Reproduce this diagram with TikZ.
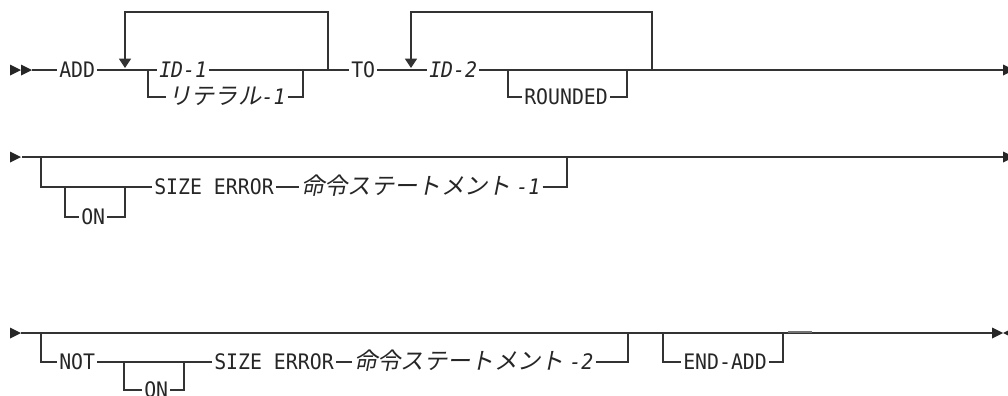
\documentclass[tikz,border=0pt]{standalone}
\usepackage{fontspec}
\setmonofont[FakeStretch=0.93]{DejaVu Sans Mono}
\newfontfamily\jafont[FakeSlant=0.2]{Noto Sans CJK JP}
\usetikzlibrary{arrows.meta}

\newcommand\idx[1]{{\ttfamily\itshape\fontsize{16}{19}\selectfont#1}}
\newcommand\railtri[2]{\fill[black!85] (#1,#2-5.5) -- ++(11,5.5) -- ++(-11,5.5) -- cycle;}

\begin{document}
\begin{tikzpicture}[
  x=0.75pt, y=-0.75pt,
  ln/.style={draw=black!80, line width=1.1pt},
  loop/.style={ln, -{Triangle[width=9pt,length=7pt]}},
  kw/.style={anchor=west, inner xsep=1.5pt, inner ysep=0pt, text height=11pt, text depth=0pt,
             text=black!85, font=\ttfamily\fontsize{16}{19}\selectfont},
  var/.style={kw, font=\ttfamily\itshape\fontsize{16}{19}\selectfont},
  ja/.style={kw, font=\jafont\fontsize{17.5}{20}\selectfont}
]
\useasboundingbox (0,0) rectangle (1008,396);

% first line: ADD ... TO ...
\railtri{10}{70}
\railtri{21}{70}
\coordinate (s1) at (32,70);
\node[kw] (add) at (57,70) {ADD};
\node[var] (idone) at (157,70) {ID-1};
\node[kw] (to) at (349,70) {TO};
\node[var] (idtwo) at (427,70) {ID-2};
\coordinate (e1) at (1003,70);
\draw[ln] (s1) -- (add) -- (idone) -- (to) -- (idtwo) -- (e1);
\railtri{1003}{70}

\coordinate (c1l) at (148,70);
\coordinate (c1r) at (303,70);
\node[ja] (lit) at (166,97) {リテラル\idx{-1}};
\draw[ln] (c1l) |- (lit) -| (c1r);
\coordinate (r1a) at (328,70);
\coordinate (r1b) at (125,68);
\draw[loop] (r1a) -- ++(0,-58) -| (r1b);

\coordinate (c2l) at (508,70);
\coordinate (c2r) at (627,70);
\node[kw] (rounded) at (522,97) {ROUNDED};
\draw[ln] (c2l) |- (rounded) -| (c2r);
\coordinate (r2a) at (652,70);
\coordinate (r2b) at (411,68);
\draw[loop] (r2a) -- ++(0,-58) -| (r2b);

% second line: ON SIZE ERROR
\railtri{10}{157}
\coordinate (s2) at (22,157);
\coordinate (e2) at (1003,157);
\draw[ln] (s2) -- (e2);
\railtri{1003}{157}

\coordinate (c3l) at (41,157);
\coordinate (c3r) at (567,157);
\node[kw] (sizeA) at (152,187) {SIZE ERROR};
\node[ja] (stmtA) at (299,187) {命令ステートメント \idx{-1}};
\draw[ln] (c3l) |- (sizeA) -- (stmtA) -| (c3r);
\coordinate (c4l) at (65,187);
\coordinate (c4r) at (125,187);
\node[kw] (onA) at (79,217) {ON};
\draw[ln] (c4l) |- (onA) -| (c4r);

% third line: NOT ON SIZE ERROR, END-ADD
\railtri{10}{333}
\coordinate (s3) at (21,333);
\coordinate (e3) at (992,333);
\draw[ln] (s3) -- (e3);
\railtri{992}{333}
\fill[black!85] (1014,327.5) -- ++(-11,5.5) -- ++(11,5.5) -- cycle;

\coordinate (c5l) at (41,333);
\coordinate (c5r) at (628,333);
\node[kw] (not) at (57,362) {NOT};
\node[kw] (sizeB) at (212,362) {SIZE ERROR};
\node[ja] (stmtB) at (352,362) {命令ステートメント \idx{-2}};
\draw[ln] (c5l) |- (not) -- (sizeB) -- (stmtB) -| (c5r);
\coordinate (c6l) at (124,362);
\coordinate (c6r) at (184,362);
\node[kw] (onB) at (142,390) {ON};
\draw[ln] (c6l) |- (onB) -| (c6r);

\coordinate (c7l) at (663,333);
\coordinate (c7r) at (783,333);
\node[kw] (endadd) at (681,362) {END-ADD};
\draw[ln] (c7l) |- (endadd) -| (c7r);
\draw[black!55, line width=1.7pt] (788,332) -- (812,332);
\end{tikzpicture}
\end{document}
